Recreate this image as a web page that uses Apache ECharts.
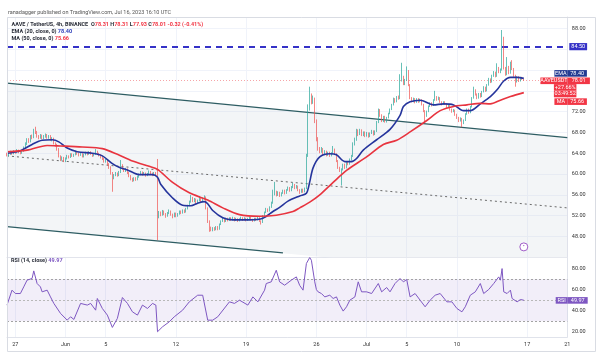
<!DOCTYPE html>
<html><head><meta charset="utf-8">
<script src="https://cdn.jsdelivr.net/npm/echarts@6.0.0/dist/echarts.min.js"></script>
<style>html,body{margin:0;padding:0;background:#fff}#c{width:600px;height:356px}</style>
</head><body><div id="c"></div>
<script>
// ---------------- data ----------------
const nSlots = 336; // 4h slots from May 26 04:00 to Jul 21 00:00
const timeTicks = [[5,'27'],[35,'Jun'],[59,'5'],[101,'12'],[143,'19'],[185,'26'],[215,'Jul'],[239,'5'],[269,'10'],[311,'17'],[335,'21']];
const priceTicks = [48,52,56,60,64,68,72,88];
const rsiTicks = [20,40,60,80];
// [open, close, low, high]
const candles = [
[63.9,63.6,63.4,64.1],[63.6,63.9,63.4,64.1],[63.9,64.2,63.7,64.5],[64.2,63.9,63.7,64.4],[63.9,64.3,63.8,64.6],
[64.3,64.1,63.9,64.5],[64.1,64.5,64.0,64.8],[64.5,64.2,64.0,64.7],[64.2,64.0,63.8,64.4],[64.0,64.4,63.9,64.6],
[64.4,65.1,64.3,65.3],[65.1,65.8,64.9,66.1],[65.8,66.6,65.6,66.9],[66.6,66.3,66.0,66.9],[66.3,67.2,66.1,67.5],
[67.2,67.0,66.7,67.6],[67.0,68.4,66.9,68.7],[68.4,68.0,67.7,69.1],[68.0,67.3,67.0,68.3],[67.3,67.0,66.7,67.5],
[67.0,67.4,66.8,67.7],[67.4,66.9,66.7,67.6],[66.9,67.2,66.7,67.5],[67.2,67.5,67.0,67.8],[67.5,67.0,66.8,67.7],
[67.0,67.3,66.8,67.5],[67.3,66.6,66.4,67.5],[66.6,66.8,66.3,67.1],[66.8,65.9,65.7,67.0],[65.9,65.6,65.3,66.1],
[65.6,64.8,64.5,65.8],[64.8,63.4,63.2,65.0],[63.4,62.8,62.5,63.6],[62.8,63.1,62.6,63.4],[63.1,62.5,62.3,63.3],
[62.5,62.9,62.3,63.2],[62.9,63.4,62.8,63.7],[63.4,63.2,63.0,63.6],[63.2,63.8,63.1,64.0],[63.8,63.5,63.3,64.0],
[63.5,63.7,63.3,63.9],[63.7,64.2,63.6,64.5],[64.2,63.9,63.7,64.4],[63.9,63.6,63.4,64.1],[63.6,63.9,63.5,64.1],
[63.9,63.4,63.2,64.0],[63.4,63.7,63.2,63.9],[63.7,64.1,63.6,64.3],[64.1,63.8,63.6,64.3],[63.8,64.2,63.7,64.4],
[64.2,63.9,63.7,64.4],[63.9,63.5,63.3,64.0],[63.5,63.8,63.4,64.0],[63.8,64.3,63.7,64.8],[64.3,63.9,63.7,64.5],
[63.9,63.6,63.4,64.1],[63.6,63.2,63.0,63.8],[63.2,62.9,62.7,63.4],[62.9,62.4,62.2,63.1],[62.4,62.6,62.2,62.9],
[62.6,61.9,61.7,62.8],[61.9,61.3,61.0,62.1],[61.3,60.2,59.9,61.5],[60.2,59.3,56.6,60.4],[59.3,59.8,59.0,60.0],
[59.8,60.1,59.6,60.4],[60.1,59.7,59.5,60.3],[59.7,60.3,59.6,60.6],[60.3,61.6,60.2,62.7],[61.6,61.0,60.8,61.9],
[61.0,60.6,60.4,61.2],[60.6,60.9,60.4,61.2],[60.9,60.2,60.0,61.1],[60.2,59.6,59.4,60.4],[59.6,59.0,58.8,59.8],
[59.0,58.8,58.5,59.3],[58.8,59.2,58.6,59.4],[59.2,58.9,58.7,59.4],[58.9,59.5,58.8,59.7],[59.5,59.9,59.3,60.1],
[59.9,60.3,59.8,60.6],[60.3,59.9,59.7,60.5],[59.9,60.2,59.8,60.4],[60.2,59.7,59.5,60.3],[59.7,60.0,59.6,60.2],
[60.0,60.4,59.9,60.7],[60.4,60.1,59.9,60.6],[60.1,59.8,59.6,60.3],[59.8,60.2,59.7,60.4],[60.2,60.0,59.8,60.4],
[60.0,51.8,47.3,62.9],[51.8,52.6,51.5,52.9],[52.6,52.1,51.9,52.8],[52.1,52.8,52.0,53.1],[52.8,52.3,52.1,53.0],
[52.3,51.9,51.6,52.5],[51.9,52.5,51.8,52.7],[52.5,52.9,52.3,53.2],[52.9,52.2,52.0,53.0],[52.2,51.8,51.5,52.4],
[51.8,52.4,51.7,52.6],[52.4,51.9,51.7,52.6],[51.9,52.3,51.8,52.5],[52.3,52.8,52.2,53.0],[52.8,52.5,52.3,53.0],
[52.5,53.0,52.4,53.2],[53.0,52.7,52.5,53.2],[52.7,53.3,52.6,53.5],[53.3,53.9,53.2,54.1],[53.9,54.6,53.8,54.9],
[54.6,55.4,54.5,56.0],[55.4,54.8,54.6,55.6],[54.8,55.2,54.6,55.4],[55.2,54.4,54.2,55.3],[54.4,54.9,54.3,55.1],
[54.9,55.5,54.8,55.8],[55.5,54.7,54.5,55.6],[54.7,55.3,54.6,55.5],[55.3,55.6,55.1,55.9],[55.6,53.4,53.2,55.7],
[53.4,50.9,50.6,53.6],[50.9,49.6,48.9,51.1],[49.6,49.2,49.0,49.9],[49.2,49.6,49.0,49.8],[49.6,49.3,49.1,49.8],
[49.3,49.8,49.2,50.0],[49.8,49.4,49.2,50.0],[49.4,50.3,49.3,50.5],[50.3,50.9,50.2,51.1],[50.9,51.3,50.8,51.6],
[51.3,50.9,50.7,51.5],[50.9,51.4,50.8,51.6],[51.4,51.1,50.9,51.6],[51.1,51.5,51.0,51.7],[51.5,51.2,51.0,51.7],
[51.2,51.6,51.1,51.8],[51.6,51.1,50.9,51.7],[51.1,51.4,51.0,51.6],[51.4,51.0,50.8,51.5],[51.0,51.3,50.9,51.5],
[51.3,51.6,51.2,51.8],[51.6,51.2,51.0,51.7],[51.2,51.5,51.1,51.7],[51.5,51.1,50.9,51.6],[51.1,51.4,51.0,51.6],
[51.4,51.7,51.3,51.9],[51.7,51.3,51.1,51.8],[51.3,51.0,50.8,51.4],[51.0,51.4,50.9,51.6],[51.4,51.2,51.0,51.6],
[51.2,51.6,51.1,51.8],[51.6,51.0,50.8,51.7],[51.0,50.7,50.3,51.1],[50.7,51.9,50.6,52.1],[51.9,52.6,51.8,52.8],
[52.6,53.2,52.5,53.5],[53.2,52.9,52.7,53.4],[52.9,53.6,52.8,53.8],[53.6,54.4,53.5,54.7],[54.4,56.2,54.3,57.0],
[56.2,56.6,55.9,58.5],[56.6,56.0,55.7,56.8],[56.0,56.5,55.8,56.7],[56.5,55.8,55.6,56.6],[55.8,56.3,55.7,56.5],
[56.3,56.8,56.2,57.0],[56.8,56.3,56.1,57.0],[56.3,56.9,56.2,57.1],[56.9,57.3,56.8,57.6],[57.3,56.8,56.6,57.5],
[56.8,57.5,56.7,57.7],[57.5,57.9,57.3,58.3],[57.9,57.3,57.1,58.1],[57.3,57.7,57.2,57.9],[57.7,56.9,56.7,57.8],
[56.9,56.5,56.2,57.1],[56.5,57.0,56.4,57.2],[57.0,56.6,56.4,57.2],[56.6,57.2,56.5,57.4],[57.2,63.5,57.1,63.9],
[63.5,72.8,63.3,73.4],[72.8,74.9,72.2,76.8],[74.9,73.8,73.4,75.5],[73.8,74.5,73.5,75.1],[74.5,70.2,69.8,74.7],
[70.2,66.8,66.3,70.5],[66.8,64.9,64.5,67.1],[64.9,64.3,64.0,65.2],[64.3,64.9,64.1,65.2],[64.9,63.8,63.6,65.0],
[63.8,64.4,63.6,64.6],[64.4,63.6,63.4,64.5],[63.6,64.1,63.5,64.3],[64.1,63.5,63.3,64.3],[63.5,64.0,63.4,64.2],
[64.0,64.7,63.9,65.4],[64.7,63.9,63.7,64.9],[63.9,62.5,62.3,64.0],[62.5,61.2,61.0,62.7],[61.2,60.6,60.4,61.4],
[60.6,60.9,57.8,61.1],[60.9,61.8,60.7,62.0],[61.8,61.2,61.0,62.0],[61.2,62.3,61.1,62.5],[62.3,61.9,61.7,62.5],
[61.9,62.8,61.8,63.0],[62.8,63.4,62.6,63.7],[63.4,65.8,63.3,66.1],[65.8,66.6,65.5,67.0],[66.6,68.3,66.4,68.7],
[68.3,67.6,67.3,68.6],[67.6,68.4,67.5,68.7],[68.4,67.5,67.3,68.6],[67.5,68.0,67.3,68.2],[68.0,67.3,67.1,68.2],
[67.3,67.9,67.2,68.1],[67.9,67.2,67.0,68.0],[67.2,67.8,67.1,68.0],[67.8,68.3,67.7,68.5],[68.3,67.6,67.4,68.4],
[67.6,68.2,67.5,68.4],[68.2,69.9,68.1,70.2],[69.9,72.2,69.8,72.6],[72.2,71.3,71.0,72.5],[71.3,70.2,70.0,71.5],
[70.2,71.0,70.0,71.2],[71.0,70.1,69.9,71.2],[70.1,70.8,69.9,71.0],[70.8,71.6,70.7,71.8],[71.6,72.4,71.5,72.6],
[72.4,73.3,72.3,73.5],[73.3,74.4,73.2,74.7],[74.4,73.9,73.7,74.6],[73.9,74.8,73.8,75.0],[74.8,74.5,74.3,75.1],
[74.5,78.4,74.4,79.2],[78.4,78.7,77.8,81.4],[78.7,77.3,77.1,78.9],[77.3,78.0,77.1,78.3],[78.0,79.8,77.9,80.7],
[79.8,77.1,76.9,80.0],[77.1,74.6,74.4,77.3],[74.6,74.0,73.8,74.8],[74.0,74.5,73.8,74.7],[74.5,73.8,73.6,74.6],
[73.8,74.4,73.7,74.6],[74.4,73.9,73.7,74.6],[73.9,74.3,73.8,74.5],[74.3,73.4,73.2,74.4],[73.4,72.1,71.9,73.5],
[72.1,71.2,69.8,72.3],[71.2,72.0,71.0,72.2],[72.0,73.0,71.9,73.2],[73.0,73.6,72.9,73.8],[73.6,73.2,73.0,73.8],
[73.2,74.2,73.1,74.4],[74.2,74.8,74.1,76.0],[74.8,74.3,74.1,75.0],[74.3,74.7,74.2,74.9],[74.7,73.9,73.7,74.8],
[73.9,73.4,73.2,74.0],[73.4,73.8,73.3,74.0],[73.8,73.5,73.3,74.0],[73.5,72.9,72.7,73.6],[72.9,73.2,72.8,73.4],
[73.2,72.4,72.2,73.3],[72.4,72.0,71.8,72.6],[72.0,72.3,71.9,72.5],[72.3,71.4,71.2,72.4],[71.4,70.8,70.6,71.6],
[70.8,70.2,70.0,71.0],[70.2,70.7,70.1,70.9],[70.7,69.8,69.0,70.8],[69.8,70.3,69.6,70.5],[70.3,71.5,70.2,71.7],
[71.5,72.4,71.4,72.6],[72.4,71.8,71.6,72.6],[71.8,72.9,71.7,73.1],[72.9,74.6,72.8,74.8],[74.6,76.0,74.5,76.8],
[76.0,75.3,75.1,76.3],[75.3,74.6,74.4,75.5],[74.6,75.4,74.5,75.6],[75.4,74.9,74.7,75.6],[74.9,75.8,74.8,76.0],
[75.8,76.6,75.7,76.9],[76.6,76.0,75.8,76.8],[76.0,77.1,75.9,77.3],[77.1,78.2,77.0,78.5],[78.2,77.7,77.5,78.4],
[77.7,78.9,77.6,79.1],[78.9,79.5,78.7,79.8],[79.5,78.8,78.6,79.7],[78.8,80.4,78.7,81.3],[80.4,79.6,79.4,80.6],
[79.6,80.0,79.4,80.3],[80.0,86.2,79.9,87.7],[86.2,80.4,80.1,86.4],[80.4,79.1,78.9,80.6],[79.1,80.6,79.0,82.5],
[80.6,79.4,79.2,80.8],[79.4,81.3,79.3,81.6],[81.3,80.2,80.0,81.9],[80.2,78.9,78.7,80.4],[78.9,77.7,76.8,79.1],
[77.7,78.6,77.6,78.8],[78.6,77.9,77.7,78.8],[77.9,78.5,77.8,78.7],[78.5,78.31,78.1,78.7],[78.31,78.01,77.93,78.31]
];
// [slot, value]
const ema20 = [[0,64.0],[8,64.5],[15,65.7],[21,66.5],[27,66.6],[31,66.2],[36,65.0],[42,64.3],[51,64.0],[57,63.5],[63,62.0],[67,61.3],[72,60.8],[79,59.9],[87,59.9],[90,59.4],[92,58.0],[99,55.4],[105,54.0],[110,53.9],[114,54.4],[118,54.7],[120,54.3],[123,53.0],[129,51.6],[135,51.2],[145,51.2],[153,51.5],[159,52.8],[163,53.6],[168,54.8],[175,55.8],[179,56.3],[181,58.5],[183,61.2],[187,63.3],[193,63.9],[197,63.7],[202,62.4],[206,62.4],[209,63.0],[213,64.6],[221,66.6],[229,68.6],[235,71.3],[237,73.0],[241,73.9],[247,74.2],[255,73.3],[261,73.5],[267,73.3],[273,72.2],[277,72.2],[283,73.5],[289,74.9],[293,76.2],[297,77.9],[301,78.6],[305,78.6],[309,78.4]];
const ma50 = [[0,64.3],[12,64.6],[24,65.5],[32,65.4],[45,65.2],[57,64.9],[66,63.8],[75,62.5],[85,61.5],[90,60.9],[99,58.4],[109,56.4],[120,55.0],[129,53.5],[139,52.2],[151,51.9],[161,52.1],[171,52.8],[175,53.5],[181,54.6],[187,56.0],[195,58.4],[203,60.7],[215,63.3],[225,65.7],[233,66.5],[241,68.1],[251,70.3],[259,72.2],[267,73.0],[275,73.3],[283,73.6],[289,73.5],[295,74.2],[301,74.9],[309,75.66]];
const rsi14 = [[0,45.3],[3,59.5],[5,56.3],[8,56.3],[10,62.6],[12,69],[15,70.6],[16,77.8],[18,65.8],[20,62.6],[21,57.9],[24,59.5],[26,53.1],[28,46.9],[32,37.4],[36,31],[38,34.2],[40,31.7],[44,46.9],[48,45.3],[50,46.9],[53,40.5],[54,51.6],[57,42.1],[60,35.8],[63,24.1],[66,32.7],[69,52.5],[72,46.9],[75,38.9],[78,35.8],[81,45.3],[84,42.1],[87,46.9],[89,45.3],[90,20],[93,24.7],[97,29.4],[100,34.2],[105,40.5],[109,48.4],[114,54.7],[117,54.7],[120,31],[123,31],[126,34.2],[127,32.7],[133,48.4],[136,46.9],[139,50],[144,45.3],[147,53.1],[150,48.4],[154,59.5],[155,65.8],[158,67.4],[161,78.4],[163,67.4],[166,64.2],[170,69],[173,72.1],[175,64],[177,59.5],[179,84.8],[181,90.5],[182,87.9],[183,86],[184,67.4],[185,60],[186,57.9],[188,56.3],[190,53.1],[193,54.7],[195,51.6],[197,53.1],[199,45.3],[201,39.6],[203,43.7],[205,50],[208,53.1],[210,67.4],[212,57.9],[215,57.9],[218,56.3],[222,65.8],[224,57.9],[227,62],[229,57.9],[232,65.8],[235,70.6],[237,67.4],[239,69.6],[241,53.1],[244,56.3],[247,50],[250,43.7],[253,50],[256,54.7],[259,56.3],[263,48.4],[266,48.4],[269,42.1],[272,38.9],[274,43.7],[277,54.7],[280,57.9],[283,65.8],[285,56.3],[288,60.1],[291,65.8],[294,72.1],[295,69],[296,80],[297,57.9],[299,56.3],[301,59.5],[302,51.6],[305,48.4],[307,50.6],[309,49.97]];
const channelUpper = [[0,77.5],[335,67.0]];
const channelLower = [[0,49.9],[165,44.85]];
const channelLowerExt = [[0,49.9],[335,39.5]];
const channelMid = [[0,63.5],[335,53.5]];
const resistance = 84.5;
const lastOHLC = {o:78.31,h:78.31,l:77.93,c:78.01,chg:'-0.32 (-0.41%)'};
const lastEma = 78.40, lastMa = 75.66, lastRsi = 49.97;
const eventIcon = [309, 46.0];

// ---------------- chart ----------------
const cats = Array.from({length:nSlots}, (_, i) => String(i));
const tickMap = new Map(timeTicks);
const FS = 5.5;
const FONT = 'Roboto, "Liberation Sans", sans-serif';
const UP = '#26a69a', DOWN = '#ef5350';
const CLEAR = 'rgba(0,0,0,0)';
const fmtShow = (i) => tickMap.has(i);

const chart = echarts.init(document.getElementById('c'), null, {renderer:'canvas'});
const tok = (bg, w) => ({backgroundColor:bg, color:'#fff', fontSize:FS, lineHeight:6.6, height:6.6, padding:[0,2], width:w, align:'center', fontFamily:FONT});

// RSI scale labels drawn as label-only mark lines at their values
const rsiTickLines = rsiTicks.map(v => ({yAxis:v, lineStyle:{color:CLEAR, width:0},
  label:{show:true, position:'end', distance:4.5, formatter:v.toFixed(2), color:'#333', fontSize:FS, fontFamily:FONT}}));

const option = {
  animation:false,
  backgroundColor:'#fff',
  textStyle:{fontFamily:FONT},
  title:[
    {text:'ranadagger published on TradingView.com, Jul 16, 2023 16:10 UTC', left:8, top:9.5, padding:0,
     textStyle:{fontSize:FS, fontWeight:'normal', color:'#555', fontFamily:FONT}},
    {text:`{n|AAVE / TetherUS, 4h, BINANCE}  {n|O}{r|${lastOHLC.o.toFixed(2)}} {n|H}{r|${lastOHLC.h.toFixed(2)}} {n|L}{r|${lastOHLC.l.toFixed(2)}} {n|C}{r|${lastOHLC.c.toFixed(2)}} {r|${lastOHLC.chg}}`,
     left:11.5, top:21.5, padding:0,
     textStyle:{fontSize:FS, rich:{n:{fontSize:FS,color:'#2a2e39',fontFamily:FONT}, r:{fontSize:FS,color:'#f23645',fontFamily:FONT}}}},
    {text:`{n|EMA (20, close, 0)} {b|${lastEma.toFixed(2)}}`, left:11.5, top:29, padding:0,
     textStyle:{fontSize:FS, rich:{n:{fontSize:FS,color:'#2a2e39',fontFamily:FONT}, b:{fontSize:FS,color:'#2a3bb8',fontFamily:FONT}}}},
    {text:`{n|MA (50, close, 0)} {r|${lastMa.toFixed(2)}}`, left:11.5, top:36, padding:0,
     textStyle:{fontSize:FS, rich:{n:{fontSize:FS,color:'#2a2e39',fontFamily:FONT}, r:{fontSize:FS,color:'#f23645',fontFamily:FONT}}}},
    {text:`{n|RSI (14, close)} {p|${lastRsi.toFixed(2)}}`, left:11, top:258, padding:0,
     textStyle:{fontSize:FS, rich:{n:{fontSize:FS,color:'#2a2e39',fontFamily:FONT}, p:{fontSize:FS,color:'#7e57c2',fontFamily:FONT}}}}
  ],
  graphic:[
    {type:'rect', silent:true, z:100, shape:{x:7.5, y:17.5, width:588, height:334}, style:{fill:'none', stroke:'#d9dce3', lineWidth:1}}
  ],
  grid:[
    {left:7, right:32.7, top:17, height:240.3, outerBoundsMode:'none', containLabel:false},
    {left:7, right:32.7, top:257, height:80, outerBoundsMode:'none', containLabel:false}
  ],
  xAxis:[
    {type:'category', gridIndex:0, data:cats, boundaryGap:false,
     axisLabel:{show:false}, axisTick:{show:false},
     axisLine:{show:true, lineStyle:{color:'#e0e3eb', width:1}},
     splitLine:{show:true, interval:fmtShow, lineStyle:{color:'#f0f3fa', width:1}}},
    {type:'category', gridIndex:1, data:cats, boundaryGap:false,
     axisLabel:{interval:fmtShow, formatter:(v, i) => tickMap.get(i) || '', fontSize:FS, color:'#333', margin:5, fontFamily:FONT},
     axisTick:{show:false},
     axisLine:{show:true, lineStyle:{color:'#e0e3eb', width:1}},
     splitLine:{show:true, interval:fmtShow, lineStyle:{color:'#f0f3fa', width:1}}}
  ],
  yAxis:[
    {type:'value', gridIndex:0, position:'right', min:44, max:90.2, interval:4, scale:true,
     axisLabel:{formatter:v => priceTicks.includes(v) ? v.toFixed(2) : '', showMinLabel:false, showMaxLabel:false,
                fontSize:FS, color:'#333', margin:4.5, fontFamily:FONT},
     axisLine:{show:true, lineStyle:{color:'#e0e3eb'}}, axisTick:{show:false},
     splitLine:{show:true, lineStyle:{color:'#f0f3fa', width:1}}},
    {type:'value', gridIndex:1, position:'right', min:15, max:91, scale:true,
     axisLabel:{show:false},
     axisLine:{show:true, lineStyle:{color:'#e0e3eb'}}, axisTick:{show:false},
     splitLine:{show:false}}
  ],
  series:[
    {type:'line', name:'channelFill', xAxisIndex:0, yAxisIndex:0, data:channelUpper, symbol:'none', silent:true, z:1,
     lineStyle:{width:0, color:CLEAR}, areaStyle:{color:'rgba(205,210,220,0.33)', origin:'start'}},
    {type:'line', name:'channelBelow', xAxisIndex:0, yAxisIndex:0, data:channelLowerExt, symbol:'none', silent:true, z:1,
     lineStyle:{width:0, color:CLEAR}, areaStyle:{color:'#ffffff', opacity:1, origin:'start'}},
    {type:'line', name:'upper', xAxisIndex:0, yAxisIndex:0, data:channelUpper, symbol:'none', silent:true, z:3,
     lineStyle:{color:'#2e5d63', width:1.3}},
    {type:'line', name:'lower', xAxisIndex:0, yAxisIndex:0, data:channelLower, symbol:'none', silent:true, z:3,
     lineStyle:{color:'#2e5d63', width:1.3}},
    {type:'line', name:'mid', xAxisIndex:0, yAxisIndex:0, data:channelMid, symbol:'none', silent:true, z:3,
     lineStyle:{color:'#6a6a6a', width:1, type:[2,3]}},
    {type:'candlestick', name:'AAVEUSDT', xAxisIndex:0, yAxisIndex:0, data:candles, barWidth:1.2, z:5,
     itemStyle:{color:UP, color0:DOWN, borderColor:UP, borderColor0:DOWN, borderWidth:0.7},
     markPoint:{silent:true, symbol:'circle', symbolSize:8,
       data:[{coord:eventIcon, itemStyle:{color:'#fff', borderColor:'#a05cc8', borderWidth:1},
              label:{show:true, formatter:'•', color:'#a05cc8', fontSize:6}}]}},
    {type:'line', name:'EMA', xAxisIndex:0, yAxisIndex:0, data:ema20, symbol:'none', smooth:0.3, z:6, clip:false,
     lineStyle:{color:'#25349c', width:1.6},
     markLine:{silent:true, symbol:['none','none'], animation:false,
       data:[
         {yAxis:resistance, lineStyle:{color:'#3532c7', type:[6,5], width:2},
          label:{show:true, position:'end', distance:2, formatter:resistance.toFixed(2), backgroundColor:'#3532c7', color:'#fff', fontSize:FS, padding:[0.6,2], fontFamily:FONT}},
         {yAxis:lastEma, lineStyle:{color:CLEAR, width:0},
          label:{show:true, position:'insideEndTop', distance:[-19.6,1.7], formatter:`{a|EMA}{b|${lastEma.toFixed(2)}}`,
                 rich:{a:tok('#233a92',9), b:tok('#233a92',15.5)}}},
         {yAxis:lastOHLC.c, lineStyle:{color:'#f6a5a8', type:[1,2], width:1},
          label:{show:true, position:'insideEndBottom', distance:[-22.6,-2.9],
                 formatter:`{a|AAVEUSDT}{b|${lastOHLC.c.toFixed(2)}}\n{b|+27.66%}\n{b|03:49:52}`,
                 rich:{a:tok('#f23645',23), b:tok('#f23645',18.5)}}},
         {yAxis:lastMa, lineStyle:{color:CLEAR, width:0},
          label:{show:true, position:'insideEndBottom', distance:[-19.6,5.7], formatter:`{a|MA}{b|${lastMa.toFixed(2)}}`,
                 rich:{a:tok('#f23645',9), b:tok('#f23645',15.5)}}}
       ]}},
    {type:'line', name:'MA', xAxisIndex:0, yAxisIndex:0, data:ma50, symbol:'none', smooth:0.3, z:6,
     lineStyle:{color:'#e8343f', width:1.6}},
    {type:'line', name:'RSI', xAxisIndex:1, yAxisIndex:1, data:rsi14, symbol:'none', z:6, clip:false,
     lineStyle:{color:'#7e57c2', width:1},
     markArea:{silent:true, itemStyle:{color:'rgba(126,87,194,0.1)'}, data:[[{yAxis:30},{yAxis:70}]]},
     markLine:{silent:true, symbol:['none','none'], animation:false,
       data:[
         {yAxis:70, lineStyle:{color:'#a3a3a3', type:[2,2], width:1}, label:{show:false}},
         {yAxis:50, lineStyle:{color:'#b8b8b8', type:[2,2], width:1}, label:{show:false}},
         {yAxis:30, lineStyle:{color:'#a3a3a3', type:[2,2], width:1}, label:{show:false}},
         ...rsiTickLines,
         {yAxis:lastRsi, lineStyle:{color:CLEAR, width:0},
          label:{show:true, position:'insideEndBottom', distance:[-20.4,-3.1], formatter:`{a|RSI}{b|${lastRsi.toFixed(2)}}`,
                 rich:{a:tok('#7e57c2',8), b:tok('#7e57c2',16)}}}
       ]}}
  ]
};
chart.setOption(option);
</script>
</body></html>
